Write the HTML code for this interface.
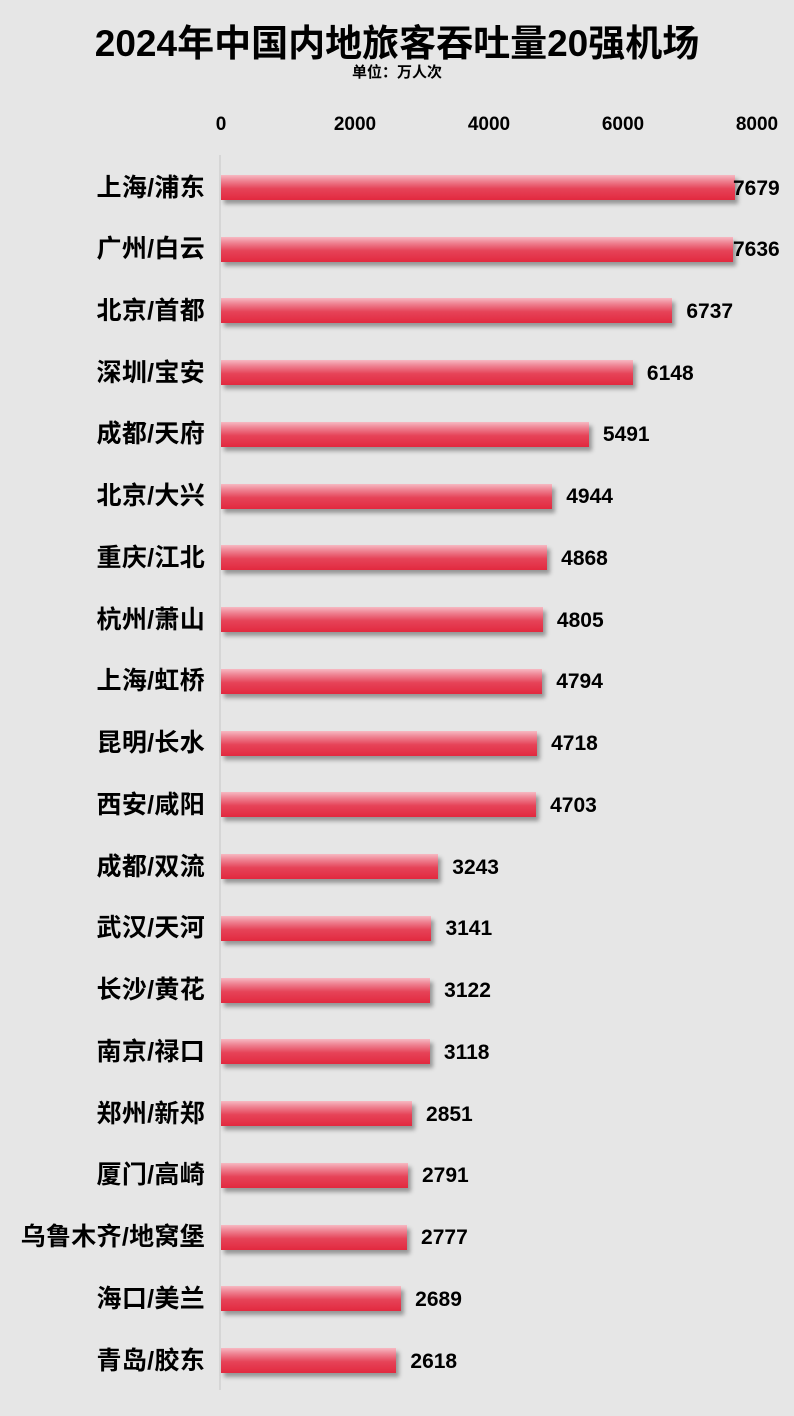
<!DOCTYPE html>
<html><head><meta charset="utf-8"><style>
body{margin:0;background:#fff}
#c{position:relative;width:794px;height:1416px;background:#e6e6e6;overflow:hidden;font-family:"Liberation Sans","Noto Sans CJK SC",sans-serif;color:#000}
.t{position:absolute;left:0;width:794px;text-align:center;font-weight:bold}
.tick{position:absolute;top:114px;font-size:19px;font-weight:bold;width:80px;text-align:center}
.lab{position:absolute;left:0;width:205px;text-align:right;font-size:25px;font-weight:bold;line-height:28px;letter-spacing:0.3px}
.bar{position:absolute;left:221px;height:25px;background:linear-gradient(#f7b9c2 0%,#ee7f8f 25%,#e64358 55%,#e2293f 100%);box-shadow:3px 4px 4px rgba(0,0,0,0.35)}
.v{position:absolute;font-size:21px;font-weight:bold;line-height:26px}
</style></head><body><div id="c">
<div class="t" style="top:22px;font-size:37px;line-height:44px">2024年中国内地旅客吞吐量20强机场</div>
<div class="t" style="top:63px;font-size:15px;line-height:20px">单位：万人次</div>
<div style="position:absolute;left:219px;top:155px;width:2px;height:1235px;background:#d6d6d6"></div>
<div id="ticks"></div>
<div id="rows"></div>
</div>
<script>
var ticks=[0,2000,4000,6000,8000],s=0.067,h='';
ticks.forEach(function(t){h+='<div class="tick" style="left:'+(221+t*s-40)+'px">'+t+'</div>'});
document.getElementById('ticks').innerHTML=h;
var d=[["上海/浦东",7679],["广州/白云",7636],["北京/首都",6737],["深圳/宝安",6148],["成都/天府",5491],["北京/大兴",4944],["重庆/江北",4868],["杭州/萧山",4805],["上海/虹桥",4794],["昆明/长水",4718],["西安/咸阳",4703],["成都/双流",3243],["武汉/天河",3141],["长沙/黄花",3122],["南京/禄口",3118],["郑州/新郑",2851],["厦门/高崎",2791],["乌鲁木齐/地窝堡",2777],["海口/美兰",2689],["青岛/胶东",2618]];
h='';
d.forEach(function(r,i){var cy=187.5+i*61.74,w=r[1]*s,lx=Math.min(221+w+14,733);
h+='<div class="lab" style="top:'+(cy-14)+'px">'+r[0]+'</div>';
h+='<div class="bar" style="top:'+(cy-12.5)+'px;width:'+w+'px"></div>';
h+='<div class="v" style="top:'+(cy-12)+'px;left:'+lx+'px">'+r[1]+'</div>';});
document.getElementById('rows').innerHTML=h;
</script></body></html>
